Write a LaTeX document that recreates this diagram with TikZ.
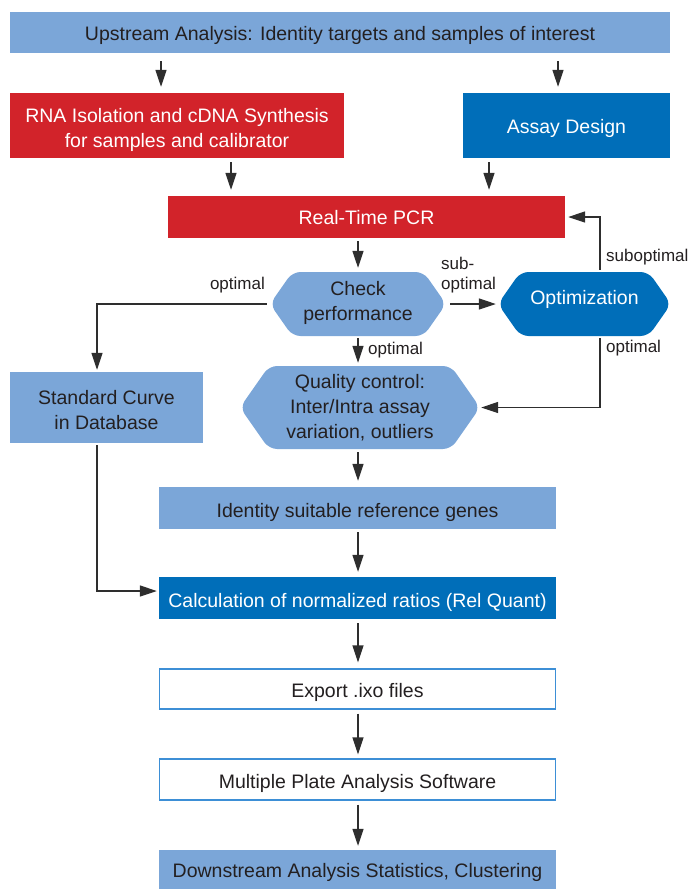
\documentclass[tikz,border=0pt]{standalone}
\usepackage{fontspec}
\setmainfont{Liberation Sans}
\usetikzlibrary{arrows.meta,calc}
\definecolor{lb}{HTML}{7BA6D8}
\definecolor{rd}{HTML}{D2232A}
\definecolor{db}{HTML}{006EB9}
\definecolor{tx}{HTML}{231F20}
\definecolor{bd}{HTML}{3D8FD6}
\definecolor{ln}{HTML}{2E2E2E}
\newcommand{\mainfs}{\fontsize{19.5}{25}\selectfont}
\newcommand{\labfs}{\fontsize{17}{20}\selectfont}
\tikzset{
  box/.style={inner sep=0pt},
  lbox/.style={box, fill=lb},
  rbox/.style={box, fill=rd},
  dbox/.style={box, fill=db},
  wbox/.style={box, draw=bd, line width=1.1pt, fill=white},
  hexa/.style={inner sep=0pt,
    path picture={
      \fill[#1, rounded corners=8pt]
        let \p1=(path picture bounding box.south west),
            \p2=(path picture bounding box.north east),
            \p3=(path picture bounding box.west),
            \p4=(path picture bounding box.east),
            \n1={0.7*(\y2-\y1)/2}
        in (\p3) -- ({\x1+\n1},\y2) -- ({\x2-\n1},\y2) -- (\p4)
           -- ({\x2-\n1},\y1) -- ({\x1+\n1},\y1) -- cycle;
    }},
  txt/.style={inner sep=0pt, align=center, font=\mainfs, text=tx},
  wtxt/.style={txt, text=white},
  arr/.style={draw=ln, line width=1.2pt, -{Triangle[length=17pt,width=11pt]}},
  lab/.style={inner sep=0pt, font=\labfs, text=tx},
}
\begin{document}
\begin{tikzpicture}[x=1pt,y=-1pt]
\useasboundingbox (0,0) rectangle (691,889);

% boxes
\node[lbox, minimum width=660pt, minimum height=41pt] (up) at (340,32.5) {};
\node[rbox, minimum width=334pt, minimum height=65pt] (rna) at (177,125.5) {};
\node[dbox, minimum width=207pt, minimum height=65pt] (assay) at (566.5,125.5) {};
\node[rbox, minimum width=397pt, minimum height=42pt] (pcr) at (366.5,217) {};
\node[hexa=lb, minimum width=176pt, minimum height=64pt] (check) at (358,304) {};
\node[hexa=db, minimum width=173pt, minimum height=64pt] (opt) at (584.5,304) {};
\node[hexa=lb, minimum width=240pt, minimum height=83pt] (qc) at (360,407.5) {};
\node[lbox, minimum width=193pt, minimum height=71pt] (std) at (106.5,407.5) {};
\node[lbox, minimum width=397pt, minimum height=42pt] (ident) at (357.5,508) {};
\node[dbox, minimum width=397pt, minimum height=42pt] (calc) at (357.5,598) {};
\node[wbox, minimum width=396pt, minimum height=40pt] (export) at (357.5,689) {};
\node[wbox, minimum width=396pt, minimum height=41pt] (multi) at (357.5,779.5) {};
\node[lbox, minimum width=397pt, minimum height=39pt] (down) at (357.5,869.5) {};

% texts
\node[txt] (upT) at ([yshift=-3pt]up.center)
  {Upstream Analysis: Identity targets and samples of interest};
\node[wtxt] (rnaT) at ([yshift=-4pt]rna.center)
  {RNA Isolation and cDNA Synthesis\\for samples and calibrator};
\node[wtxt] (assayT) at ([yshift=-2.5pt]assay.center) {Assay Design};
\node[wtxt] (pcrT) at ([yshift=-0.5pt]pcr.center) {Real-Time PCR};
\node[txt] (checkT) at ([yshift=1.5pt]check.center) {Check\\performance};
\node[wtxt] (optT) at ([yshift=4.5pt]opt.center) {Optimization};
\node[txt] (qcT) at (qc.center) {Quality control:\\Inter/Intra assay\\variation, outliers};
\node[txt] (stdT) at ([yshift=-3pt]std.center) {Standard Curve\\in Database};
\node[txt] (identT) at ([yshift=-4.5pt]ident.center) {Identity suitable reference genes};
\node[wtxt] (calcT) at ([yshift=-4pt]calc.center) {Calculation of normalized ratios (Rel Quant)};
\node[txt] (exportT) at ([yshift=-3.5pt]export.center) {Export .ixo files};
\node[txt] (multiT) at ([yshift=-3.5pt]multi.center) {Multiple Plate Analysis Software};
\node[txt] (downT) at ([yshift=-3pt]down.center) {Downstream Analysis Statistics, Clustering};

% helper coordinates
\coordinate (c1) at (161,0);
\coordinate (c2) at (558,0);
\coordinate (c3) at (231,0);
\coordinate (c4) at (489,0);
\coordinate (cm) at (358,0);
\coordinate (cs) at (97,0);
\coordinate (co) at (600,0);
\coordinate (cc) at (0,591);

% connectors
\draw[arr, shorten <=8pt, shorten >=6pt] (c1 |- up.south) -- (c1 |- rna.north);
\draw[arr, shorten <=8pt, shorten >=6pt] (c2 |- up.south) -- (c2 |- assay.north);
\draw[arr, shorten <=4pt, shorten >=6pt] (c3 |- rna.south) -- (c3 |- pcr.north);
\draw[arr, shorten <=4pt, shorten >=6pt] (c4 |- assay.south) -- (c4 |- pcr.north);
\draw[arr, shorten <=3pt, shorten >=4pt] (cm |- pcr.south) -- (cm |- check.north);
\draw[arr, shorten <=4pt, shorten >=2pt] (check.east) -- (opt.west);
\draw[arr, shorten <=2pt, shorten >=3pt] (co |- opt.north) |- (pcr.east);
\draw[arr, shorten <=2pt, shorten >=1pt] (co |- opt.south) |- (qc.east);
\draw[arr, shorten <=3pt, shorten >=2pt] (check.west) -| (cs |- std.north);
\draw[arr, shorten <=2pt, shorten >=3pt] (cm |- check.south) -- (cm |- qc.north);
\draw[arr, shorten <=3pt, shorten >=6pt] (cm |- qc.south) -- (cm |- ident.north);
\draw[arr, shorten <=3pt, shorten >=5pt] (cm |- ident.south) -- (cm |- calc.north);
\draw[arr, shorten <=2pt, shorten >=2pt] (cs |- std.south) |- (cc -| calc.west);
\draw[arr, shorten <=4pt, shorten >=6pt] (cm |- calc.south) -- (cm |- export.north);
\draw[arr, shorten <=4pt, shorten >=4pt] (cm |- export.south) -- (cm |- multi.north);
\draw[arr, shorten <=4pt, shorten >=4pt] (cm |- multi.south) -- (cm |- down.north);

% labels
\node[lab, anchor=east] (l1) at (265,285) {optimal};
\node[lab, anchor=west, align=left] (l2) at (441,275) {sub-\\optimal};
\node[lab, anchor=west] (l3) at (606,257) {suboptimal};
\node[lab, anchor=west] (l4) at (606,348) {optimal};
\node[lab, anchor=west] (l5) at (368,350) {optimal};
\end{tikzpicture}
\end{document}
